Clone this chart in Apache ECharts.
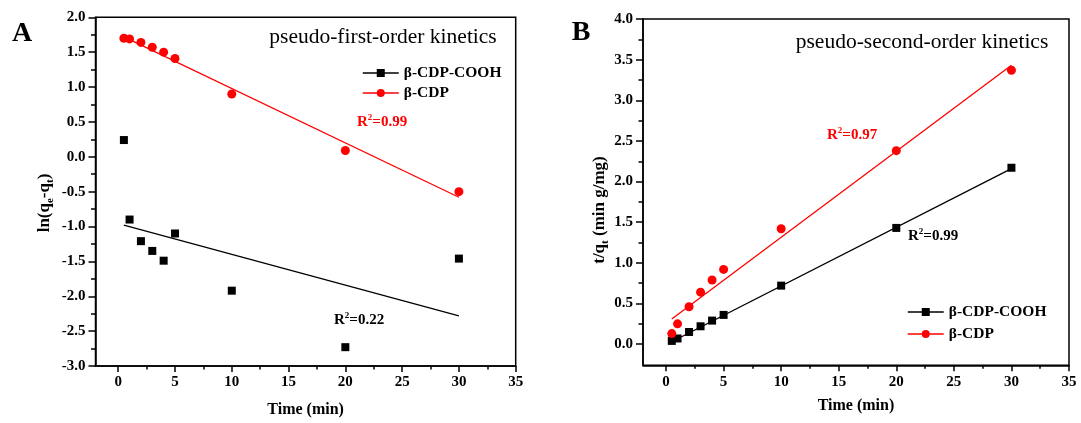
<!DOCTYPE html>
<html><head><meta charset="utf-8">
<script src="https://cdn.jsdelivr.net/npm/echarts@6/dist/echarts.min.js"></script>
<style>html,body{margin:0;padding:0;background:#fff}#c{width:1081px;height:423px}</style>
</head><body><div id="c"></div>
<script>
// ---- data ----
const timeMin = [0.5, 1, 2, 3, 4, 5, 10, 20, 30];
const fitX = [0.5, 30];
// Panel A: pseudo-first-order ln(qe-qt)
const aCooh = [0.24, -0.90, -1.21, -1.35, -1.49, -1.10, -1.92, -2.73, -1.46];
const aCdp = [1.70, 1.69, 1.64, 1.57, 1.50, 1.41, 0.90, 0.09, -0.50];
const aFitCooh = [-0.98, -2.28];
const aFitCdp = [1.72, -0.58];
// Panel B: pseudo-second-order t/qt
const bCooh = [0.04, 0.07, 0.15, 0.22, 0.29, 0.36, 0.72, 1.43, 2.17];
const bCdp = [0.13, 0.25, 0.46, 0.64, 0.79, 0.92, 1.42, 2.38, 3.37];
const bFitCooh = [0.03, 2.16];
const bFitCdp = [0.31, 3.43];
// ticks
const xMajor = [0, 5, 10, 15, 20, 25, 30, 35];
const xMinor = [2.5, 7.5, 12.5, 17.5, 22.5, 27.5, 32.5];
const bYMajor = [0, 0.5, 1, 1.5, 2, 2.5, 3, 3.5, 4];
const bYMinor = [0.25, 0.75, 1.25, 1.75, 2.25, 2.75, 3.25, 3.75];
const names = ['β-CDP-COOH', 'β-CDP'];
const colors = ['#000000', '#ff0000'];
const r2 = { a1: '0.22', a2: '0.99', b1: '0.99', b2: '0.97' };

const FF = "'Liberation Serif','Times New Roman',serif";
const pair = (xs, ys) => xs.map((x, i) => [x, ys[i]]);
const lblStyle = { fontFamily: FF, fontWeight: 'bold', fontSize: 15, color: '#000' };
const axLine = { show: true, onZero: false, lineStyle: { color: '#000', width: 1.5 } };
const noLine = { show: false, onZero: false };

function xAxes(g, gap) {
  return [
    { gridIndex: g, type: 'value', min: -2, max: 35, position: 'bottom',
      axisLine: axLine, splitLine: { show: false },
      axisTick: { show: true, customValues: xMajor, length: 6, lineStyle: { color: '#000', width: 1.5 } },
      axisLabel: Object.assign({ customValues: xMajor, margin: 9 }, lblStyle),
      name: 'Time (min)', nameLocation: 'middle', nameGap: gap,
      nameTextStyle: { fontFamily: FF, fontWeight: 'bold', fontSize: 16, color: '#000' } },
    { gridIndex: g, type: 'value', min: -2, max: 35, position: 'bottom',
      axisLine: noLine, splitLine: { show: false }, axisLabel: { show: false },
      axisTick: { show: true, customValues: xMinor, length: 3.5, lineStyle: { color: '#000', width: 1.5 } } }
  ];
}
function ptSeries(name, xi, yi, ys, idx) {
  return { name: name, type: 'line', xAxisIndex: xi, yAxisIndex: yi, data: pair(timeMin, ys),
    symbol: idx === 0 ? 'rect' : 'circle', symbolSize: idx === 0 ? 8 : 9, z: 5,
    color: colors[idx], itemStyle: { color: colors[idx] },
    lineStyle: { color: colors[idx], width: 0, opacity: 0 }, animation: false };
}
function fitSeries(name, xi, yi, ys, idx) {
  return { name: name, type: 'line', xAxisIndex: xi, yAxisIndex: yi, data: pair(fitX, ys),
    symbol: 'none', z: 3, color: colors[idx], lineStyle: { color: colors[idx], width: 1.3 }, animation: false };
}
function rich(fill) {
  return {
    r: { fontFamily: FF, fontWeight: 'bold', fontSize: 15, lineHeight: 18, fill: fill, color: fill },
    s: { fontFamily: FF, fontWeight: 'bold', fontSize: 9, lineHeight: 10, verticalAlign: 'top', fill: fill, color: fill }
  };
}
function r2Text(x, y, val, fill) {
  return { type: 'text', x: x, y: y, style: { text: '{r|R}{s|2}{r|=' + val + '}', rich: rich(fill),
    fill: fill, textAlign: 'left', textVerticalAlign: 'middle' } };
}
function plain(x, y, text, size, weight) {
  return { type: 'text', x: x, y: y, style: { text: text, fontFamily: FF, fontSize: size, fontWeight: weight,
    fill: '#000', textAlign: 'center', textVerticalAlign: 'middle' } };
}
const subRich = {
  n: { fontFamily: FF, fontWeight: 'bold', fontSize: 17, lineHeight: 22, fill: '#000' },
  b: { fontFamily: FF, fontWeight: 'bold', fontSize: 11, lineHeight: 12, verticalAlign: 'bottom', fill: '#000' }
};

const option = {
  backgroundColor: '#fff',
  animation: false,
  grid: [
    { left: 95.5, top: 17.3, width: 420.2, height: 351.7, show: true, borderColor: '#000', borderWidth: 1.5, backgroundColor: 'transparent' },
    { left: 643, top: 19, width: 426, height: 346.3, show: true, borderColor: '#000', borderWidth: 1.5, backgroundColor: 'transparent' }
  ],
  xAxis: xAxes(0, 36).concat(xAxes(1, 33)),
  yAxis: [
    { gridIndex: 0, type: 'value', min: -3, max: 2, interval: 0.5,
      axisLine: axLine, splitLine: { show: false },
      axisTick: { show: true, length: 7, lineStyle: { color: '#000', width: 1.5 } },
      minorTick: { show: true, splitNumber: 2, length: 4.5, lineStyle: { color: '#000', width: 1.5 } },
      axisLabel: Object.assign({ margin: 10, formatter: v => v.toFixed(1) }, lblStyle) },
    { gridIndex: 1, type: 'value', min: -0.26, max: 4, position: 'left',
      axisLine: axLine, splitLine: { show: false },
      axisTick: { show: true, customValues: bYMajor, length: 7, lineStyle: { color: '#000', width: 1.5 } },
      axisLabel: Object.assign({ customValues: bYMajor, margin: 10, formatter: v => Number(v).toFixed(1) }, lblStyle) },
    { gridIndex: 1, type: 'value', min: -0.26, max: 4, position: 'left',
      axisLine: noLine, splitLine: { show: false }, axisLabel: { show: false },
      axisTick: { show: true, customValues: bYMinor, length: 4.5, lineStyle: { color: '#000', width: 1.5 } } }
  ],
  legend: [
    { data: names, orient: 'vertical', left: 357, top: 59, itemWidth: 36, itemHeight: 10, itemGap: 2,
      textStyle: { fontFamily: FF, fontWeight: 'bold', fontSize: 15.5, lineHeight: 18, color: '#000' },
      lineStyle: { width: 1.5, opacity: 1 }, selectedMode: false },
    { data: names, orient: 'vertical', left: 902, top: 298, itemWidth: 36, itemHeight: 10, itemGap: 4,
      textStyle: { fontFamily: FF, fontWeight: 'bold', fontSize: 15.5, lineHeight: 18, color: '#000' },
      lineStyle: { width: 1.5, opacity: 1 }, selectedMode: false }
  ],
  series: [
    ptSeries(names[0], 0, 0, aCooh, 0),
    ptSeries(names[1], 0, 0, aCdp, 1),
    fitSeries('fitA0', 0, 0, aFitCooh, 0),
    fitSeries('fitA1', 0, 0, aFitCdp, 1),
    ptSeries(names[0], 2, 1, bCooh, 0),
    ptSeries(names[1], 2, 1, bCdp, 1),
    fitSeries('fitB0', 2, 1, bFitCooh, 0),
    fitSeries('fitB1', 2, 1, bFitCdp, 1)
  ],
  graphic: [
    plain(22, 34, 'A', 28, 'bold'),
    plain(581, 33, 'B', 28, 'bold'),
    plain(383, 37, 'pseudo-first-order kinetics', 21.5, 'normal'),
    plain(922, 42, 'pseudo-second-order kinetics', 21.5, 'normal'),
    r2Text(357, 122, r2.a2, '#ff0000'),
    r2Text(334, 320, r2.a1, '#000000'),
    r2Text(827, 135, r2.b2, '#ff0000'),
    r2Text(908, 236, r2.b1, '#000000'),
    { type: 'text', x: 45, y: 203, rotation: Math.PI / 2,
      style: { text: '{n|ln(q}{b|e}{n|-q}{b|t}{n|)}', rich: subRich, textAlign: 'center', textVerticalAlign: 'middle', fill: '#000' } },
    { type: 'text', x: 600, y: 210, rotation: Math.PI / 2,
      style: { text: '{n|t/q}{b|t}{n| (min g/mg)}', rich: subRich, textAlign: 'center', textVerticalAlign: 'middle', fill: '#000' } }
  ]
};
const chart = echarts.init(document.getElementById('c'), null, { renderer: 'canvas' });
chart.setOption(option);
</script>
</body></html>
